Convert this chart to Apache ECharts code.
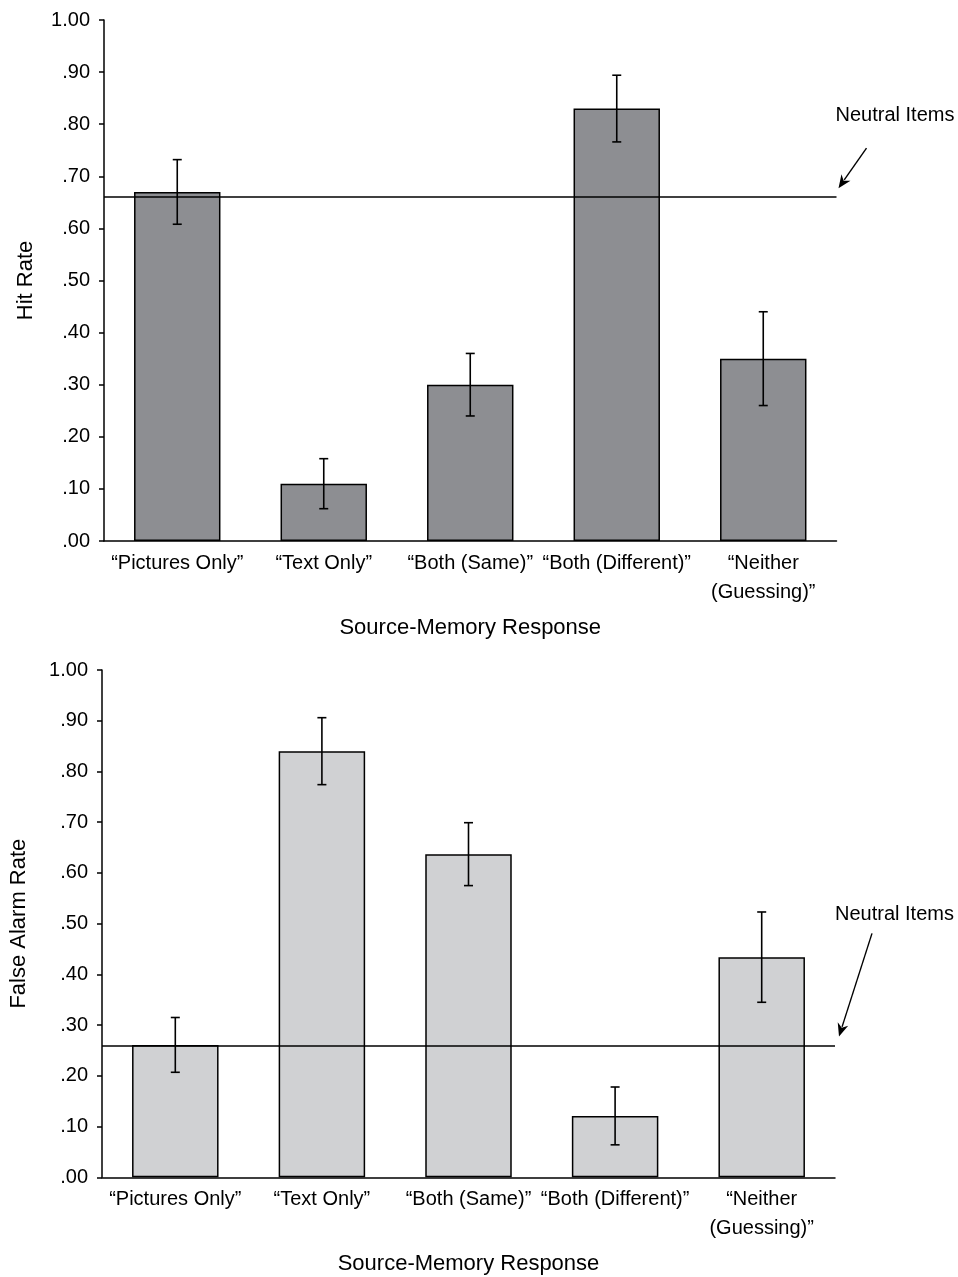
<!DOCTYPE html>
<html><head><meta charset="utf-8">
<script src="https://cdn.jsdelivr.net/npm/echarts@6/dist/echarts.min.js"></script>
<style>html,body{margin:0;padding:0;background:#fff}#c{width:958px;height:1277px}</style>
</head><body><div id="c"></div>
<script>
// ---- data ----
const categories = ['\u201cPictures Only\u201d', '\u201cText Only\u201d', '\u201cBoth (Same)\u201d', '\u201cBoth (Different)\u201d', '\u201cNeither\n(Guessing)\u201d'];
const hitRate = [0.67, 0.11, 0.30, 0.83, 0.35];
const hitRateErr = [0.062, 0.048, 0.060, 0.064, 0.090];
const falseAlarmRate = [0.261, 0.84, 0.637, 0.121, 0.434];
const falseAlarmErr = [0.054, 0.066, 0.062, 0.057, 0.089];
const neutralHit = 0.66;
const neutralFalseAlarm = 0.26;
const yTickLabels = ['.00', '.10', '.20', '.30', '.40', '.50', '.60', '.70', '.80', '.90', '1.00'];
const xTitle = 'Source-Memory Response';
const yTitles = ['Hit Rate', 'False Alarm Rate'];
const annotationText = 'Neutral Items';

// ---- chart ----
const FONT = '"Liberation Sans", Arial, sans-serif';
const chart = echarts.init(document.getElementById('c'), null, {renderer: 'canvas'});

const grids = [
  {left: 104, top: 20, width: 732.5, height: 521},
  {left: 102, top: 670, width: 733, height: 507.3}
];

function xAxis(gi) {
  return {
    type: 'category', gridIndex: gi, data: categories,
    axisLine: {show: true, lineStyle: {color: '#000', width: 1.5}},
    axisTick: {show: false},
    axisLabel: {color: '#000', fontSize: 20, fontFamily: FONT, lineHeight: 29, margin: 8, interval: 0},
    name: xTitle, nameLocation: 'middle', nameGap: 76,
    nameTextStyle: {color: '#000', fontSize: 22, fontFamily: FONT}
  };
}
function yAxis(gi, gap) {
  return {
    type: 'value', gridIndex: gi, min: 0, max: 1, interval: 0.1,
    axisLine: {show: true, lineStyle: {color: '#000', width: 1.5}},
    axisTick: {show: true, inside: false, length: 5, lineStyle: {color: '#000', width: 1.5}},
    splitLine: {show: false},
    axisLabel: {color: '#000', fontSize: 20, fontFamily: FONT, margin: 14,
      formatter: v => yTickLabels[Math.round(v * 10)]},
    name: yTitles[gi], nameLocation: 'middle', nameGap: gap,
    nameTextStyle: {color: '#000', fontSize: 22, fontFamily: FONT}
  };
}

function renderErr(params, api) {
  const x = api.value(0), lo = api.value(1), hi = api.value(2);
  const p1 = api.coord([x, hi]), p2 = api.coord([x, lo]);
  const w = 4.5;
  const style = {stroke: '#000', lineWidth: 1.6};
  return {type: 'group', children: [
    {type: 'line', shape: {x1: p1[0], y1: p1[1], x2: p2[0], y2: p2[1]}, style: style},
    {type: 'line', shape: {x1: p1[0] - w, y1: p1[1], x2: p1[0] + w, y2: p1[1]}, style: style},
    {type: 'line', shape: {x1: p2[0] - w, y1: p2[1], x2: p2[0] + w, y2: p2[1]}, style: style}
  ]};
}

function barSeries(gi, values, color, neutral) {
  return {
    type: 'bar', xAxisIndex: gi, yAxisIndex: gi, data: values, barWidth: '59%',
    itemStyle: {color: color, borderColor: '#000', borderWidth: 1.5},
    silent: true, z: 2,
    markLine: {
      silent: true, symbol: 'none', z: 4,
      label: {show: false},
      lineStyle: {color: '#000', width: 1.6, type: 'solid'},
      data: [{yAxis: neutral}]
    }
  };
}
function errSeries(gi, values, errs) {
  return {
    type: 'custom', xAxisIndex: gi, yAxisIndex: gi, z: 5, silent: true,
    renderItem: renderErr,
    encode: {x: 0, y: [1, 2]},
    data: values.map((v, i) => [i, v - errs[i], v + errs[i]])
  };
}

chart.setOption({
  animation: false,
  backgroundColor: '#fff',
  textStyle: {fontFamily: FONT},
  grid: grids,
  xAxis: [xAxis(0), xAxis(1)],
  yAxis: [yAxis(0, 67), yAxis(1, 72)],
  series: [
    barSeries(0, hitRate, '#8d8e92', neutralHit),
    errSeries(0, hitRate, hitRateErr),
    barSeries(1, falseAlarmRate, '#d0d1d3', neutralFalseAlarm),
    errSeries(1, falseAlarmRate, falseAlarmErr)
  ]
});

// ---- "Neutral Items" annotations with arrows, anchored at the end of each neutral line ----
function annotation(gi, value, textOff, tipOff, tailOff) {
  const g = grids[gi];
  const ex = g.left + g.width;
  const ey = chart.convertToPixel({yAxisIndex: gi}, value);
  const tip = [ex + tipOff[0], ey + tipOff[1]];
  const tail = [ex + tailOff[0], ey + tailOff[1]];
  const dx = tip[0] - tail[0], dy = tip[1] - tail[1];
  const len = Math.sqrt(dx * dx + dy * dy);
  const ux = dx / len, uy = dy / len;
  const hl = 13, hw = 5.5;
  const bx = tip[0] - ux * hl, by = tip[1] - uy * hl;
  return [
    {type: 'text', style: {text: annotationText, x: ex + textOff[0], y: ey + textOff[1],
      fill: '#000', font: '20px ' + FONT, align: 'left', verticalAlign: 'middle'}},
    {type: 'line', shape: {x1: tail[0], y1: tail[1], x2: bx + ux * 3, y2: by + uy * 3},
      style: {stroke: '#000', lineWidth: 1.4}},
    {type: 'polygon', shape: {points: [tip, [bx - uy * hw, by + ux * hw], [bx + ux * 4, by + uy * 4], [bx + uy * hw, by - ux * hw]]},
      style: {fill: '#000'}}
  ];
}

chart.setOption({
  graphic: [].concat(
    annotation(0, neutralHit, [-1, -82], [2, -9], [30, -49]),
    annotation(1, neutralFalseAlarm, [0, -131], [4, -9], [37, -112])
  )
});
</script>
</body></html>
